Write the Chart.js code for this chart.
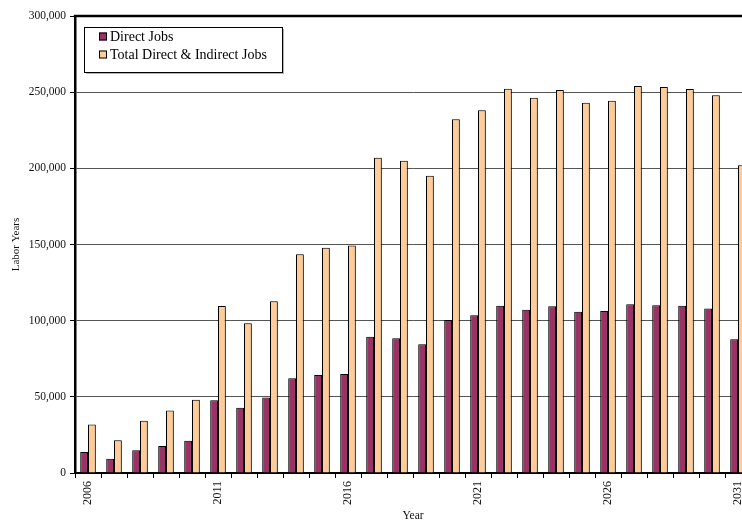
<!DOCTYPE html>
<html><head><meta charset="utf-8">
<script src="https://cdn.jsdelivr.net/npm/chart.js@4.4.1/dist/chart.umd.min.js"></script>
<style>
html,body{margin:0;padding:0;background:#fff;overflow:hidden;width:742px;height:523px}
canvas{display:block}
</style></head>
<body><canvas id="c" width="760" height="523"></canvas>
<script>
const years = ['2006','2007','2008','2009','2010','2011','2012','2013','2014','2015','2016','2017','2018','2019','2020','2021','2022','2023','2024','2025','2026','2027','2028','2029','2030','2031'];
const directJobs = [13800,9400,14900,17800,21100,47800,42800,49600,62200,64300,65000,89500,88400,84500,100500,103600,109800,107100,109400,105800,106300,110700,110200,109800,108000,87800];
const totalJobs = [31800,21500,34300,41000,48100,109600,98300,112700,143600,147900,149300,207000,204900,195200,232300,238200,252300,246400,251400,243100,244400,254000,253400,252000,248000,202000];
const seriesNames = ['Direct Jobs','Total Direct & Indirect Jobs'];
const seriesColors = ['#993366','#FFCC99'];
const yMax = 300000, yStep = 50000;
const axisTitles = {x:'Year', y:'Labor Years'};

const FONT = "'Liberation Serif','Times New Roman',serif";

const barShadow = {
  id:'barShadow',
  beforeDatasetsDraw(chart){
    const ctx=chart.ctx; ctx.save();
    ctx.shadowColor='rgba(0,0,0,0.3)'; ctx.shadowOffsetX=1.5; ctx.shadowOffsetY=0.5; ctx.shadowBlur=0;
  },
  afterDatasetsDraw(chart){ chart.ctx.restore(); }
};

const frame = {
  id:'frame',
  afterDraw(chart){
    const ctx=chart.ctx, a=chart.chartArea;
    ctx.save();
    ctx.strokeStyle='#000'; ctx.lineWidth=2.5;
    ctx.beginPath(); ctx.moveTo(a.left-1.2,a.top); ctx.lineTo(chart.width,a.top); ctx.stroke();
    // legend box
    const x=a.left+9, y=a.top+11, w=198, h=45;
    ctx.fillStyle='rgba(0,0,0,0.3)'; ctx.fillRect(x+2,y+2,w,h);
    ctx.fillStyle='#fff'; ctx.fillRect(x,y,w,h);
    ctx.lineWidth=1; ctx.strokeRect(x+0.5,y+0.5,w,h);
    ctx.font='14px '+FONT; ctx.textBaseline='middle'; ctx.textAlign='left';
    chart.data.datasets.forEach((ds,i)=>{
      const cy=y+9.5+i*18;
      ctx.fillStyle=ds.backgroundColor; ctx.fillRect(x+15,cy-4,8,8);
      ctx.strokeStyle='#000'; ctx.strokeRect(x+15.5,cy-3.5,7,7);
      ctx.fillStyle='#000'; ctx.fillText(ds.label,x+26,cy+0.5);
    });
    ctx.restore();
  }
};

new Chart(document.getElementById('c'),{
  type:'bar',
  data:{
    labels:years,
    datasets:[
      {label:seriesNames[0],data:directJobs,backgroundColor:seriesColors[0],borderColor:'#000',borderWidth:1,categoryPercentage:0.6,barPercentage:1.0},
      {label:seriesNames[1],data:totalJobs,backgroundColor:seriesColors[1],borderColor:'#000',borderWidth:1,categoryPercentage:0.6,barPercentage:1.0}
    ]
  },
  options:{
    responsive:false, animation:false,
    layout:{padding:{top:16,right:9,left:0,bottom:0}},
    plugins:{legend:{display:false},tooltip:{enabled:false}},
    scales:{
      x:{
        offset:true,
        grid:{offset:true,drawOnChartArea:false,drawTicks:true,tickLength:5,color:'#000',lineWidth:1},
        border:{display:true,color:'#000',width:2},
        ticks:{autoSkip:false,maxRotation:90,minRotation:90,padding:3,color:'#111',font:{family:FONT,size:12},
          callback:function(v,i){return i%5===0?this.getLabelForValue(v):'';}},
        title:{display:true,text:axisTitles.x,color:'#111',font:{family:FONT,size:11.5},padding:{top:0,bottom:0}},
        afterFit(s){s.height=50;}
      },
      y:{
        min:0,max:yMax,
        grid:{color:'#555',lineWidth:1,tickColor:'#000',tickLength:5,drawTicks:true},
        border:{display:true,color:'#000',width:2.5},
        ticks:{stepSize:yStep,padding:4,color:'#111',font:{family:FONT,size:11.5},
          callback:(v)=>v.toLocaleString('en-US')},
        title:{display:true,text:axisTitles.y,color:'#111',font:{family:FONT,size:11},padding:{top:10,bottom:0}},
        afterFit(s){s.width=75;}
      }
    }
  },
  plugins:[barShadow,frame]
});
</script>
</body></html>
